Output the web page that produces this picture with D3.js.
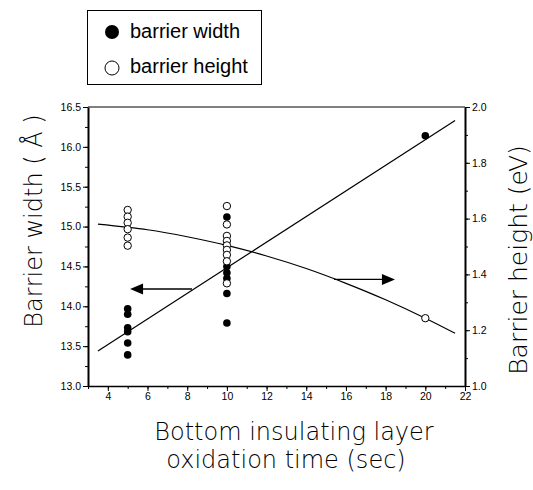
<!DOCTYPE html>
<html>
<head>
<meta charset="utf-8">
<script src="https://cdn.jsdelivr.net/npm/d3@7"></script>
<style>
  body { margin: 0; background: #fff; }
  svg { display: block; }
</style>
</head>
<body>
<div id="chart"></div>
<script>
// barrier width (left axis, Å)
var widthTime = [5, 5, 5, 5, 5, 5, 10, 10, 10, 10, 10, 10, 20];
var widthVal = [13.97, 13.90, 13.73, 13.68, 13.54, 13.39, 15.12, 14.50, 14.42, 14.35, 14.16, 13.79, 16.14];

// barrier height (right axis, eV)
var heightTime = [5, 5, 5, 5, 5, 5, 10, 10, 10, 10, 10, 10, 10, 10, 10, 20];
var heightVal = [1.631, 1.607, 1.585, 1.562, 1.532, 1.503, 1.645, 1.579, 1.538, 1.520, 1.504, 1.488, 1.470, 1.447, 1.368, 1.243];

// fit lines
var widthFitTime = [3.5, 21.5];
var widthFitVal = [13.44, 16.33];
var heightFitTime = [3.5, 6, 8, 10, 12, 14, 16, 18, 20, 21.5];
var heightFitVal = [1.580, 1.560, 1.535, 1.504, 1.466, 1.421, 1.368, 1.309, 1.243, 1.189];

// tick labels
var xTicks = [4, 6, 8, 10, 12, 14, 16, 18, 20, 22];
var yLeftTicks = [13.0, 13.5, 14.0, 14.5, 15.0, 15.5, 16.0, 16.5];
var yRightTicks = [1.0, 1.2, 1.4, 1.6, 1.8, 2.0];

var svgWidth = 533, svgHeight = 490;
var font = 'Arial, "Liberation Sans", sans-serif';
var titleFont = '"DejaVu Sans", sans-serif';

var svg = d3.select('#chart').append('svg')
  .attr('width', svgWidth)
  .attr('height', svgHeight);

svg.append('rect').attr('width', svgWidth).attr('height', svgHeight).attr('fill', '#fff');

var x = d3.scaleLinear().domain([3, 22]).range([88, 465]);
var yL = d3.scaleLinear().domain([13, 16.5]).range([386, 107]);
var yR = d3.scaleLinear().domain([1, 2]).range([386, 107]);

// top frame line
svg.append('line')
  .attr('x1', x(3)).attr('x2', x(22))
  .attr('y1', yL(16.5)).attr('y2', yL(16.5))
  .attr('stroke', '#000').attr('stroke-width', 1);

function styleAxis(g, w) {
  g.select('.domain').attr('stroke-width', w);
  g.selectAll('.tick line').attr('stroke-width', 1);
  g.selectAll('.tick text').attr('font-family', font).attr('font-size', 10.5).attr('fill', '#000');
}

// minor ticks first
svg.append('g').attr('transform', 'translate(0,386)')
  .call(d3.axisBottom(x).tickValues(d3.range(3, 22.1, 1)).tickSize(3).tickFormat(''))
  .call(function(g) { g.select('.domain').remove(); });
svg.append('g').attr('transform', 'translate(88,0)')
  .call(d3.axisLeft(yL).tickValues(d3.range(13, 16.51, 0.25)).tickSize(3).tickFormat(''))
  .call(function(g) { g.select('.domain').remove(); });
svg.append('g').attr('transform', 'translate(465,0)')
  .call(d3.axisRight(yR).tickValues(d3.range(1, 2.01, 0.1)).tickSize(3).tickFormat(''))
  .call(function(g) { g.select('.domain').remove(); });

// major axes
svg.append('g').attr('transform', 'translate(0,386)')
  .call(d3.axisBottom(x).tickValues(xTicks).tickSize(5).tickSizeOuter(0).tickPadding(2).tickFormat(d3.format('d')))
  .call(styleAxis, 1.5);
svg.append('g').attr('transform', 'translate(88,0)')
  .call(d3.axisLeft(yL).tickValues(yLeftTicks).tickSize(5).tickSizeOuter(0).tickPadding(2).tickFormat(d3.format('.1f')))
  .call(styleAxis, 2);
svg.append('g').attr('transform', 'translate(465,0)')
  .call(d3.axisRight(yR).tickValues(yRightTicks).tickSize(5).tickSizeOuter(0).tickPadding(2).tickFormat(d3.format('.1f')))
  .call(styleAxis, 2);

// fit lines
svg.append('path')
  .datum(d3.zip(widthFitTime, widthFitVal))
  .attr('d', d3.line().x(function(d) { return x(d[0]); }).y(function(d) { return yL(d[1]); }))
  .attr('fill', 'none').attr('stroke', '#000').attr('stroke-width', 1.2);

svg.append('path')
  .datum(d3.zip(heightFitTime, heightFitVal))
  .attr('d', d3.line().curve(d3.curveNatural).x(function(d) { return x(d[0]); }).y(function(d) { return yR(d[1]); }))
  .attr('fill', 'none').attr('stroke', '#000').attr('stroke-width', 1.2);

// arrows
var arrows = [
  { from: [8.24, 14.217], to: [5.12, 14.217], scale: yL },
  { from: [15.4, 1.382], to: [18.47, 1.382], scale: yR }
];
arrows.forEach(function(a) {
  var x1 = x(a.from[0]), x2 = x(a.to[0]), yy = a.scale(a.from[1]);
  var dir = x2 > x1 ? 1 : -1;
  svg.append('line')
    .attr('x1', x1).attr('x2', x2 - dir * 10).attr('y1', yy).attr('y2', yy)
    .attr('stroke', '#000').attr('stroke-width', 1.3);
  svg.append('path')
    .attr('d', 'M' + x2 + ',' + yy + 'L' + (x2 - dir * 13) + ',' + (yy - 5.5) + 'L' + (x2 - dir * 13) + ',' + (yy + 5.5) + 'Z')
    .attr('fill', '#000');
});

// points
svg.append('g').selectAll('circle')
  .data(d3.zip(widthTime, widthVal))
  .enter().append('circle')
  .attr('cx', function(d) { return x(d[0]); })
  .attr('cy', function(d) { return yL(d[1]); })
  .attr('r', 3.8)
  .attr('fill', '#000');

svg.append('g').selectAll('circle')
  .data(d3.zip(heightTime, heightVal))
  .enter().append('circle')
  .attr('cx', function(d) { return x(d[0]); })
  .attr('cy', function(d) { return yR(d[1]); })
  .attr('r', 3.7)
  .attr('fill', '#fff')
  .attr('stroke', '#000').attr('stroke-width', 1);

// legend
var legend = svg.append('g');
legend.append('rect')
  .attr('x', 87.5).attr('y', 10.5).attr('width', 174).attr('height', 74)
  .attr('fill', '#fff').attr('stroke', '#000').attr('stroke-width', 1);
legend.append('circle').attr('cx', 112).attr('cy', 32).attr('r', 7).attr('fill', '#000');
legend.append('circle').attr('cx', 112).attr('cy', 68).attr('r', 7)
  .attr('fill', '#fff').attr('stroke', '#000').attr('stroke-width', 1);
legend.append('text').attr('x', 130).attr('y', 38).text('barrier width')
  .attr('font-family', font).attr('font-size', 20);
legend.append('text').attr('x', 130).attr('y', 73).text('barrier height')
  .attr('font-family', font).attr('font-size', 20);

// axis titles
svg.append('text')
  .attr('transform', 'translate(42,221) rotate(-90)')
  .attr('text-anchor', 'middle')
  .attr('font-family', titleFont).attr('font-size', 24).attr('font-weight', 200)
  .text('Barrier width ( Å )');

svg.append('text')
  .attr('transform', 'translate(527,260) rotate(-90)')
  .attr('text-anchor', 'middle')
  .attr('font-family', titleFont).attr('font-size', 25).attr('font-weight', 200)
  .text('Barrier height (eV)');

svg.append('text')
  .attr('x', 294).attr('y', 440)
  .attr('text-anchor', 'middle')
  .attr('font-family', titleFont).attr('font-size', 24).attr('font-weight', 200)
  .text('Bottom insulating layer');
svg.append('text')
  .attr('x', 286).attr('y', 468)
  .attr('text-anchor', 'middle')
  .attr('font-family', titleFont).attr('font-size', 24).attr('font-weight', 200)
  .text('oxidation time (sec)');
</script>
</body>
</html>
